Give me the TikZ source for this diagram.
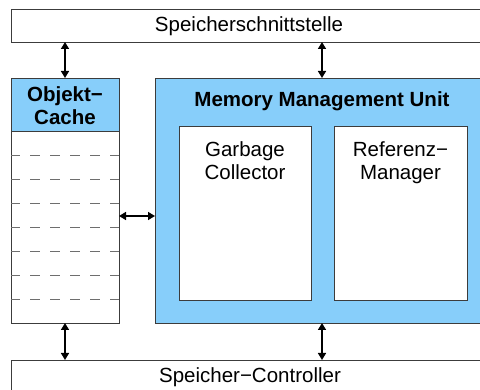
\documentclass[tikz,border=0pt]{standalone}
\usepackage{fontspec}
\setmainfont{Liberation Sans}
\usetikzlibrary{arrows.meta}
\definecolor{unitblue}{RGB}{135,206,250}
\definecolor{frame}{RGB}{60,60,60}
\definecolor{rowline}{RGB}{110,110,110}
\tikzset{
  box/.style={draw=frame, line width=0.9pt, fill=white, rectangle, outer sep=0pt, inner sep=0pt, anchor=north west},
  bluebox/.style={box, fill=unitblue},
  txt/.style={font=\fontsize{20.5}{23}\selectfont, inner sep=0pt, align=center},
  btxt/.style={txt, font=\fontsize{20.5}{23}\selectfont\bfseries},
  link/.style={line width=1.5pt, {Triangle[length=7pt,width=8pt]}-{Triangle[length=7pt,width=8pt]}},
  row/.style={draw=rowline, line width=0.9pt, dash pattern=on 10pt off 10pt, dash phase=1pt}
}
\begin{document}
\begin{tikzpicture}[x=1pt,y=-1pt]
\useasboundingbox (0,0) rectangle (480,390);
\fill[white] (0,0) rectangle (480,390);

% memory interface on top, memory controller at the bottom
\node[box, minimum width=478pt, minimum height=33pt] (iface) at (11,9) {};
\node[txt, anchor=base] at (249,32) {Speicherschnittstelle};
\node[box, minimum width=478pt, minimum height=45pt] (ctrl) at (11,360) {};
\node[txt, anchor=base] at (250,383) {Speicher\textminus Controller};

% object cache: header and rows
\node[bluebox, minimum width=108pt, minimum height=53pt] (head) at (11,78) {};
\node[btxt, anchor=base] at (65,102) {Objekt\textminus};
\node[btxt, anchor=base] at (65,125) {Cache};
\node[box, minimum width=108pt, minimum height=192pt] (cache) at (11,131) {};
\foreach \r in {1,...,7}
  \draw[row] ([yshift=-24pt*\r]cache.north west) -- ([yshift=-24pt*\r]cache.north east);

% memory management unit
\node[bluebox, minimum width=334pt, minimum height=245pt] (mmu) at (155,78) {};
\node[btxt, anchor=base] at (322,107) {Memory Management Unit};
\node[box, minimum width=132pt, minimum height=174pt] (gc) at (179,126) {};
\node[txt, anchor=base] at (245,157) {Garbage};
\node[txt, anchor=base] at (245,180) {Collector};
\node[box, minimum width=133pt, minimum height=174pt] (ref) at (334,126) {};
\node[txt, anchor=base] at (400.5,157) {Referenz\textminus};
\node[txt, anchor=base] at (400.5,180) {Manager};

% connections
\draw[link] (iface.south -| head.north) -- (head.north);
\draw[link] (iface.south -| mmu.north) -- (mmu.north);
\draw[link] (cache.east |- 0,216) -- (mmu.west |- 0,216);
\draw[link] (cache.south) -- (cache.south |- ctrl.north);
\draw[link] (mmu.south) -- (mmu.south |- ctrl.north);
\end{tikzpicture}
\end{document}
